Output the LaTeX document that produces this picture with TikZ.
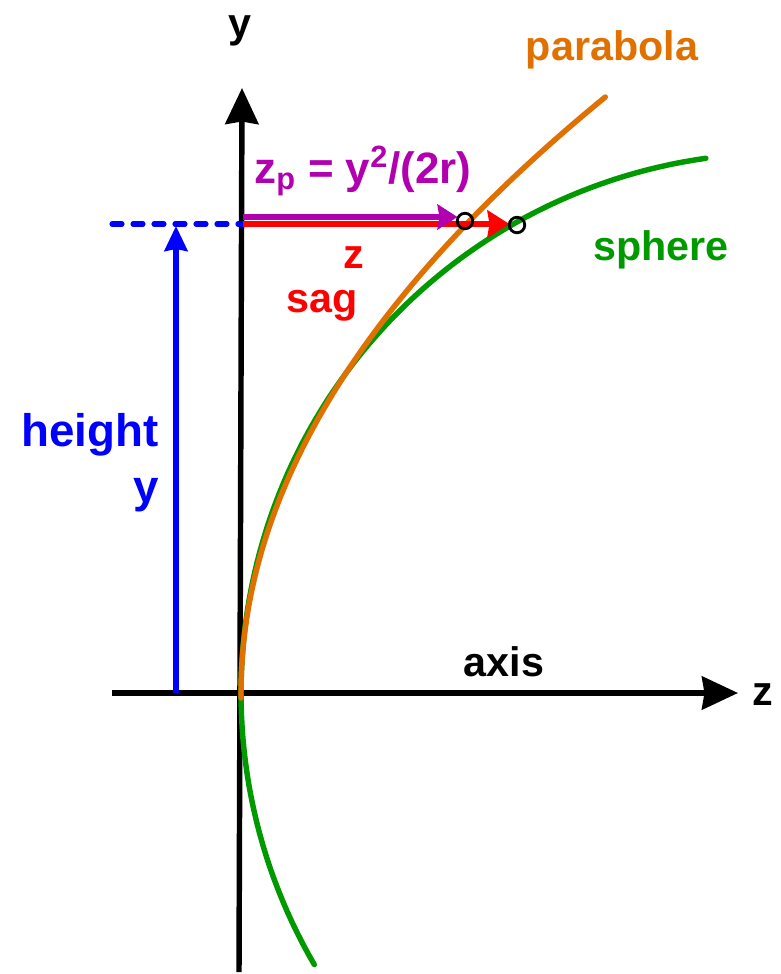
\documentclass[tikz,border=0pt]{standalone}
\usepackage{fontspec}
\setmainfont{Liberation Sans}
\usepackage{tikz}
\usetikzlibrary{arrows.meta}

\definecolor{sphgreen}{RGB}{0,153,0}
\definecolor{parorange}{RGB}{224,112,0}
\definecolor{zpmagenta}{RGB}{176,0,176}

\begin{document}
\begin{tikzpicture}[
    x=0.02cm, y=-0.02cm,
    axisline/.style = {line width=3.1pt, black,
                       -{Stealth[length=0.72cm, width=0.66cm, inset=0.05cm]}},
    curve/.style    = {line width=3.1pt, line cap=round},
    marker/.style   = {circle, draw=black, line width=1.6pt, fill=none,
                       minimum size=0.31cm, inner sep=0pt},
    zparrow/.style  = {line width=3pt, zpmagenta, shorten >=0.15cm,
                       -{Stealth[length=0.4cm, width=0.5cm, inset=0.04cm]}},
    sagarrow/.style = {line width=3.4pt, red, shorten >=0.15cm,
                       -{Stealth[length=0.44cm, width=0.54cm, inset=0.04cm]}},
    harrow/.style   = {line width=2.9pt, blue,
                       -{Stealth[length=0.5cm, width=0.46cm, inset=0.04cm]}},
    hdash/.style    = {line width=2.9pt, blue, line cap=round,
                       dash pattern=on 0.2cm off 0.22cm},
    lbl/.style      = {font=\fontsize{23.5}{26}\selectfont\bfseries,
                       inner sep=0pt, anchor=base}
]
\useasboundingbox (0,0) rectangle (781,974);

% ========= axes =========
\coordinate (zstart) at (112,693);
\coordinate (zend)   at (738,693);
\coordinate (ystart) at (239,972);
\coordinate (yend)   at (242,88);
\draw[axisline] (zstart) -- (zend);
\draw[axisline] (ystart) -- (yend);
\node[lbl] (zlab) at (763,705) {z};
\node[lbl] (ylab) at (240,37)  {y};
\node[lbl] (axislab) at (504,676) {axis};

% ========= sphere and parabola =========
\draw[curve, sphgreen]  plot[domain=-30.2:82, samples=90]
    ({781-540*cos(\x)}, {693-540*sin(\x)});
\draw[curve, parorange] plot[domain=-5:596, samples=90]
    ({241+\x/975*\x}, {693-\x});
\node[lbl, text=parorange] (parlab) at (612,60)  {parabola};
\node[lbl, text=sphgreen]  (sphlab) at (661,260) {sphere};

% ========= height y =========
\coordinate (hbase) at (176,693);
\coordinate (htop)  at (176,226);
\coordinate (dash0) at (112,224);
\coordinate (sag0)  at (243,224);
\draw[hdash]  (dash0) -- (sag0);
\draw[harrow] (hbase) -- (htop);
\node[lbl, text=blue, anchor=base east, font=\fontsize{26}{28}\selectfont\bfseries]
    (heightlab) at (159,446) {height};
\node[lbl, text=blue, anchor=base east, font=\fontsize{26}{28}\selectfont\bfseries]
    (hylab) at (159,502) {y};

% ========= sag arrows and markers =========
\coordinate (pc)  at (465,221);
\coordinate (sc)  at (517,225);
\coordinate (zp0) at (243,217);
\draw[sagarrow] (sag0) -- (sag0 -| sc);
\draw[zparrow]  (zp0)  -- (zp0 -| pc);
\node[marker] (pmark) at (pc) {};
\node[marker] (smark) at (sc) {};

\node[lbl, text=zpmagenta, anchor=base west, font=\fontsize{25}{28}\selectfont\bfseries]
    (zplab) at (254,183) {z\textsubscript{p} = y\textsuperscript{2}/(2r)};
\node[lbl, text=red] (zlabred) at (354,268) {z};
\node[lbl, text=red] (saglab)  at (322,312) {sag};

\end{tikzpicture}
\end{document}
